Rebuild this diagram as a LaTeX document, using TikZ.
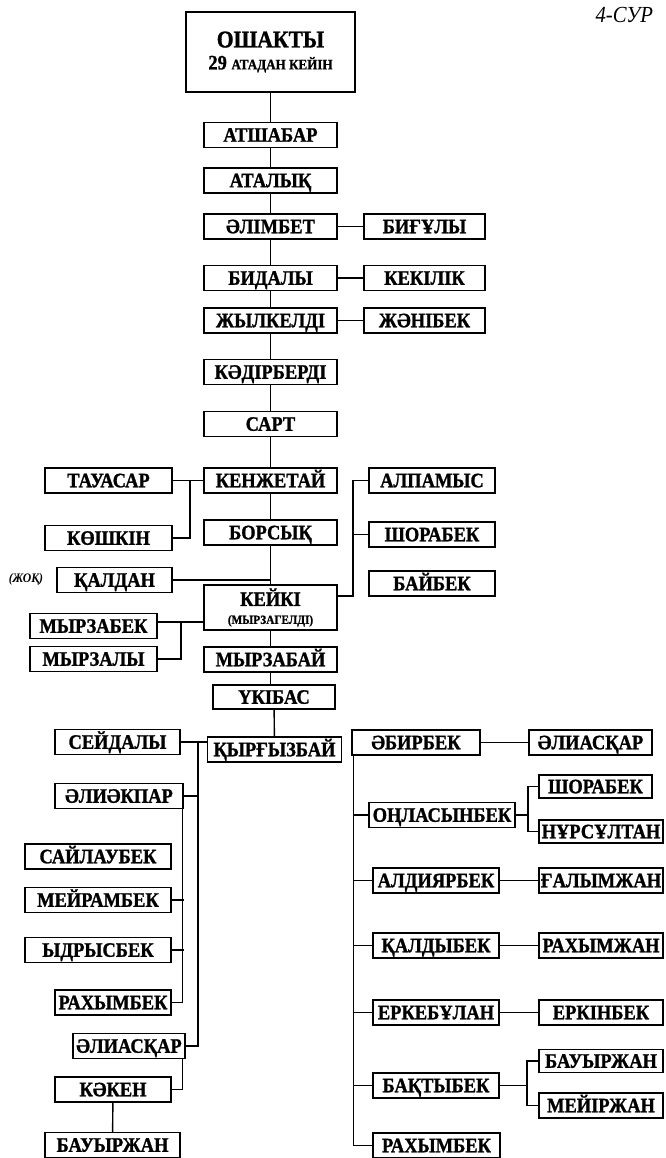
\documentclass[tikz,border=0pt]{standalone}
\usepackage{fontspec}
\setmainfont[FakeStretch=0.9,BoldFeatures={FakeBold=1.2}]{Liberation Serif}
\begin{document}
\begin{tikzpicture}[x=1pt,y=-1pt,
  box/.style={draw,line width=1.5pt,inner sep=0pt},
  kin/.style={box,minimum height=25pt,text height=13.5pt,text depth=0pt,
    font=\bfseries\fontsize{20.5}{22}\selectfont},
  link/.style={line width=1.4pt}]
\useasboundingbox (0,0) rectangle (665,1158);

\node[anchor=base west,font=\itshape\fontsize{23}{26}\selectfont] (fig) at (592,23) {4-СУР};
\node[box,minimum width=169pt,minimum height=80pt,align=center,font=\bfseries\fontsize{24}{25}\selectfont] (oshakty) at (270.5,52)
  {ОШАКТЫ\\[-3pt]{\fontsize{20.5}{22}\selectfont 29 {\fontsize{14.5}{16}\selectfont АТАДАН КЕЙІН}}};

\node[kin,minimum width=133pt] (atshabar) at (270.5,135) {АТШАБАР};
\node[kin,minimum width=133pt] (atalyq) at (270.5,180.5) {АТАЛЫҚ};
\node[kin,minimum width=133pt] (alimbet) at (270.5,226.5) {ӘЛІМБЕТ};
\node[kin,minimum width=133pt] (bidaly) at (270.5,278) {БИДАЛЫ};
\node[kin,minimum width=133pt] (zhylkeldi) at (270.5,320.5) {ЖЫЛКЕЛДІ};
\node[kin,minimum width=133pt] (kadirberdi) at (270.5,372) {КӘДІРБЕРДІ};
\node[kin,minimum width=133pt] (sart) at (270.5,424) {САРТ};
\node[kin,minimum width=133pt] (kenzhetai) at (270.5,480.5) {КЕНЖЕТАЙ};
\node[kin,minimum width=133pt] (borsyq) at (270.5,532.5) {БОРСЫҚ};
\node[box,minimum width=133pt,minimum height=45pt,align=center,font=\bfseries\fontsize{20.5}{20}\selectfont] (keiki) at (270.5,607.5)
  {КЕЙКІ\\[-2pt]{\fontsize{12.5}{13}\selectfont (МЫРЗАГЕЛДІ)}};
\node[kin,minimum width=133pt] (myrzabai) at (270.5,659.5) {МЫРЗАБАЙ};
\node[kin,minimum width=122pt,minimum height=24pt] (ukibas) at (274,697) {ҮКІБАС};
\node[kin,minimum width=134pt] (qyrgyzbai) at (274.5,749.5) {ҚЫРҒЫЗБАЙ};

\node[kin,minimum width=121pt] (biguly) at (424.5,226.5) {БИҒҰЛЫ};
\node[kin,minimum width=121pt] (kekilik) at (424.5,278) {КЕКІЛІК};
\node[kin,minimum width=121pt] (zhanibek) at (424.5,320.5) {ЖӘНІБЕК};

\node[kin,minimum width=127pt] (tauasar) at (108.5,480.5) {ТАУАСАР};
\node[kin,minimum width=127pt] (koshkin) at (108.5,538) {КӨШКІН};
\node[kin,minimum width=115pt] (qaldan) at (114.5,580) {ҚАЛДАН};
\node[font=\bfseries\itshape\fontsize{13}{14}\selectfont] (zhoq) at (26,579) {(ЖОҚ)};
\node[kin,minimum width=127pt] (myrzabek) at (93.5,626) {МЫРЗАБЕК};
\node[kin,minimum width=127pt] (myrzaly) at (93.5,659) {МЫРЗАЛЫ};

\node[kin,minimum width=126pt] (alpamys) at (432,480.5) {АЛПАМЫС};
\node[kin,minimum width=126pt] (shorabek) at (432,534.5) {ШОРАБЕК};
\node[kin,minimum width=126pt] (baibek) at (432,583.5) {БАЙБЕК};

\node[kin,minimum width=125pt] (seidaly) at (117.5,742) {СЕЙДАЛЫ};
\node[kin,minimum width=128pt] (aliakpar) at (119,796) {ӘЛИӘКПАР};
\node[kin,minimum width=146pt] (sailaubek) at (98,856.5) {САЙЛАУБЕК};
\node[kin,minimum width=146pt] (meirambek) at (98,900) {МЕЙРАМБЕК};
\node[kin,minimum width=146pt] (ydrysbek) at (98,950) {ЫДРЫСБЕК};
\node[kin,minimum width=116pt] (rakhymbek) at (113,1002.5) {РАХЫМБЕК};
\node[kin,minimum width=112pt] (aliasqar) at (129,1046) {ӘЛИАСҚАР};
\node[kin,minimum width=116pt] (kaken) at (113,1089.5) {КӘКЕН};
\node[kin,minimum width=135pt] (bauyrzhan) at (112.5,1145) {БАУЫРЖАН};

\node[kin,minimum width=128pt] (abirbek) at (416,742.5) {ӘБИРБЕК};
\node[kin,minimum width=123pt] (aliasqarr) at (590.5,742.5) {ӘЛИАСҚАР};
\node[kin,minimum width=146pt] (onlasynbek) at (442,815) {ОҢЛАСЫНБЕК};
\node[kin,minimum width=113pt,minimum height=23pt] (shorabekk) at (595.5,786.5) {ШОРАБЕК};
\node[kin,minimum width=124pt,minimum height=23pt] (nursultan) at (601,831.5) {НҰРСҰЛТАН};
\node[kin,minimum width=126pt] (aldiyarbek) at (436,880.5) {АЛДИЯРБЕК};
\node[kin,minimum width=124pt] (galymzhan) at (601,880.5) {ҒАЛЫМЖАН};
\node[kin,minimum width=126pt] (qaldybek) at (436,945.5) {ҚАЛДЫБЕК};
\node[kin,minimum width=124pt] (rakhymzhan) at (601,945.5) {РАХЫМЖАН};
\node[kin,minimum width=126pt] (erkebulan) at (436,1012.5) {ЕРКЕБҰЛАН};
\node[kin,minimum width=124pt] (erkinbek) at (601,1012.5) {ЕРКІНБЕК};
\node[kin,minimum width=126pt] (baqtybek) at (436,1085.5) {БАҚТЫБЕК};
\node[kin,minimum width=124pt,minimum height=23pt] (bauyrzhann) at (601,1061) {БАУЫРЖАН};
\node[kin,minimum width=124pt] (meirzhan) at (601,1105.5) {МЕЙІРЖАН};
\node[kin,minimum width=127pt] (rakhymbekk) at (436.5,1145.5) {РАХЫМБЕК};

% trunk
\draw[link] (oshakty) -- (atshabar) -- (atalyq) -- (alimbet) -- (bidaly) -- (zhylkeldi)
  -- (kadirberdi) -- (sart) -- (kenzhetai) -- (borsyq) -- (keiki) -- (myrzabai);
\draw[link] (myrzabai.south) -- (myrzabai.south |- ukibas.north);
\draw[link] (ukibas) -- (qyrgyzbai);

\draw[link] (alimbet) -- (biguly);
\draw[link] (bidaly) -- (kekilik);
\draw[link] (zhylkeldi) -- (zhanibek);

% kenzhetai, keiki
\coordinate (tk) at (190,480.5);
\draw[link] (tauasar) -- (kenzhetai);
\draw[link] (koshkin.east) -| (tk);
\draw[link] (qaldan.east) -- (qaldan.east -| borsyq.south);
\coordinate (mm) at (181,622);
\draw[link] (myrzabek.east |- mm) -- (mm -| keiki.west);
\draw[link] (myrzaly.east) -| (mm);
\coordinate (ab) at (353,596);
\draw[link] (alpamys.west) -| (ab) -- (ab -| keiki.east);
\draw[link] (shorabek) -- (shorabek -| ab);

% qyrgyzbai, left
\coordinate (lsp) at (198,742);
\draw[link] (seidaly) -- (seidaly -| qyrgyzbai.west);
\draw[link] (lsp) |- (aliasqar.east);
\draw[link] (aliakpar) -- (aliakpar -| lsp);
\draw[link] ([xshift=-1pt]aliakpar.south east) |- (rakhymbek.east);
\draw[link] (meirambek) -- (meirambek -| aliakpar.east);
\draw[link] (ydrysbek) -- (ydrysbek -| aliakpar.east);
\draw[link] ([xshift=-3pt]aliasqar.south east) |- (kaken.east);
\draw[link] (kaken) -- (bauyrzhan);

% qyrgyzbai, right
\coordinate (rs) at ([xshift=2pt]abirbek.south west);
\draw[link] (rs) |- (rakhymbekk.west);
\draw[link] (onlasynbek) -- (onlasynbek -| rs);
\draw[link] (aldiyarbek) -- (aldiyarbek -| rs);
\draw[link] (qaldybek) -- (qaldybek -| rs);
\draw[link] (erkebulan) -- (erkebulan -| rs);
\draw[link] (baqtybek) -- (baqtybek -| rs);
\draw[link] (abirbek) -- (aliasqarr);
\draw[link] (aldiyarbek) -- (galymzhan);
\draw[link] (qaldybek) -- (rakhymzhan);
\draw[link] (erkebulan) -- (erkinbek);
\coordinate (ob) at (528,815);
\draw[link] (onlasynbek) -- (ob);
\draw[link] (shorabekk.west) -| (ob) |- (nursultan.west);
\coordinate (bb) at (527,1085.5);
\draw[link] (baqtybek) -- (bb);
\draw[link] (bauyrzhann.west) -| (bb) |- (meirzhan.west);
\end{tikzpicture}
\end{document}
